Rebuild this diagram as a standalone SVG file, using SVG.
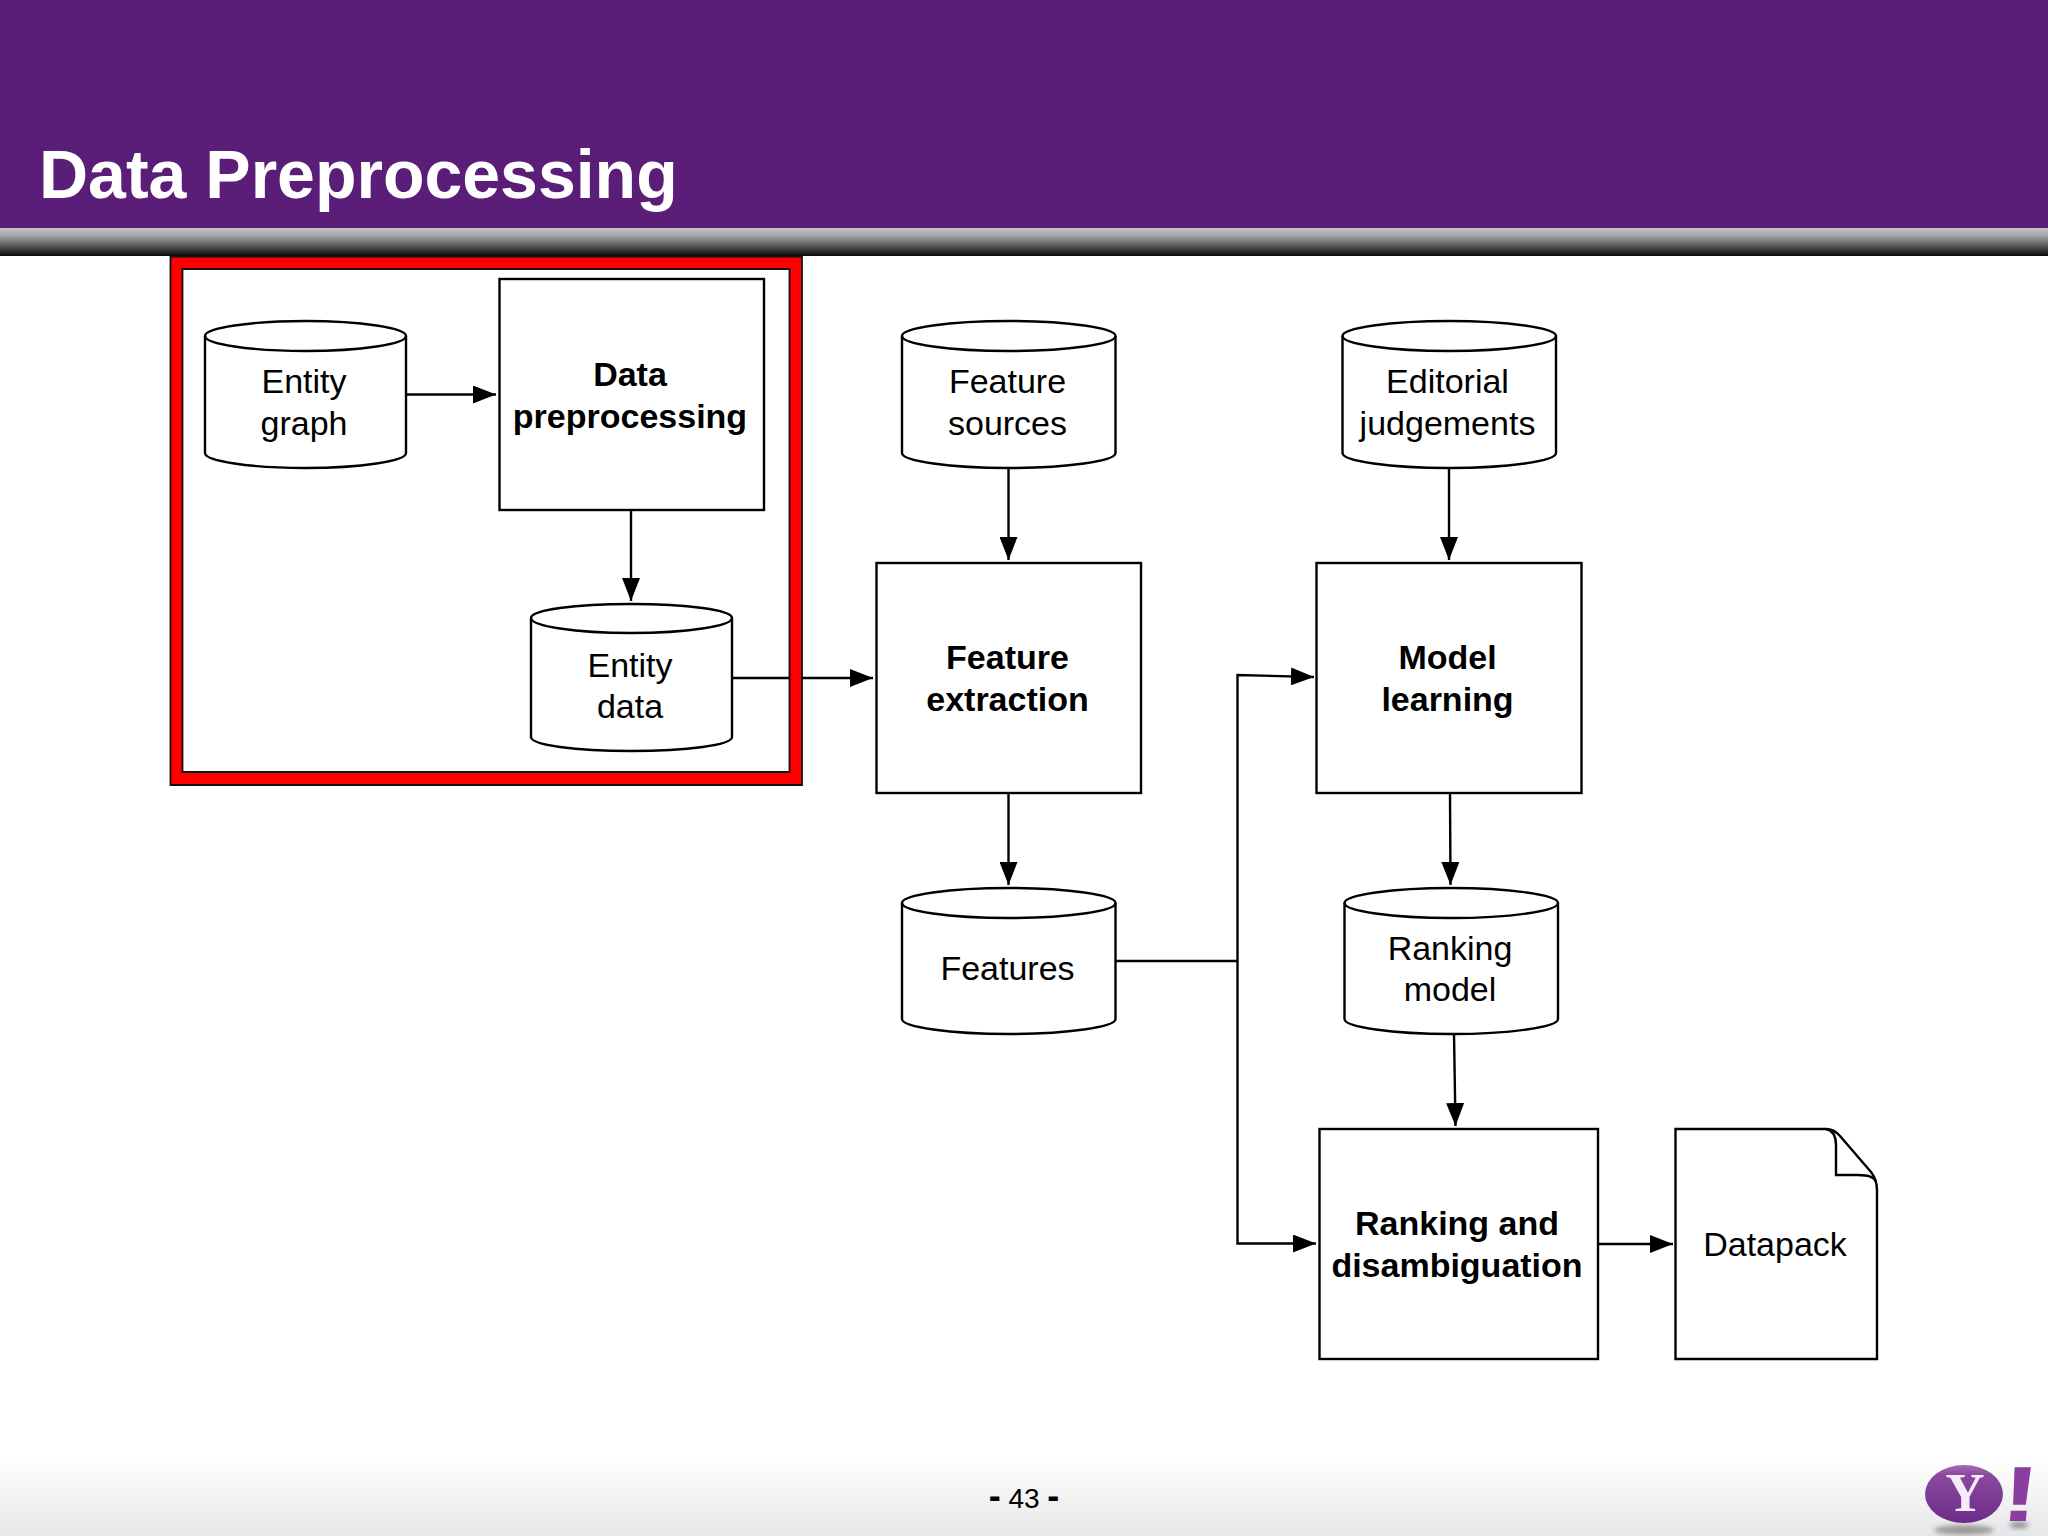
<svg xmlns="http://www.w3.org/2000/svg" width="2048" height="1536" viewBox="0 0 2048 1536">
<style>
text{font-family:"Liberation Sans",Arial,sans-serif;fill:#000;text-anchor:middle}
.l{font-size:34px}
.b{font-size:34px;font-weight:700}
.s{fill:#fff;stroke:#000;stroke-width:2.4}
.n{fill:none;stroke:#000;stroke-width:2.4}
.c{fill:none;stroke:#000;stroke-width:2.4}
.a{marker-end:url(#arr)}
</style>
<defs>
<marker id="arr" markerUnits="userSpaceOnUse" markerWidth="24" markerHeight="18" refX="23" refY="9" orient="auto"><path d="M0 0L23 9L0 18Z" fill="#000"/></marker>
<linearGradient id="bar" x1="0" y1="0" x2="0" y2="1"><stop offset="0" stop-color="#c4c4c4"/><stop offset=".25" stop-color="#a8a8a8"/><stop offset=".7" stop-color="#4a4a4a"/><stop offset="1" stop-color="#0a0a0a"/></linearGradient>
<linearGradient id="foot" x1="0" y1="0" x2="0" y2="1"><stop offset="0" stop-color="#fff"/><stop offset="1" stop-color="#e6e6e8"/></linearGradient>
<linearGradient id="ball" x1="0" y1="0" x2="0" y2="1"><stop offset="0" stop-color="#a868b8"/><stop offset=".18" stop-color="#8a489e"/><stop offset="1" stop-color="#6a2c88"/></linearGradient>
<filter id="bl" x="-30%" y="-60%" width="160%" height="220%"><feGaussianBlur stdDeviation="2.5"/></filter>
</defs>
<rect width="2048" height="1536" fill="#fff"/>
<g id="header">
<rect width="2048" height="228" fill="#5a1e78"/>
<rect y="228" width="2048" height="28" fill="url(#bar)"/>
<text x="39" y="198" style="font-size:68px;font-weight:700;fill:#fff;text-anchor:start">Data Preprocessing</text>
</g>
<g id="footer">
<rect y="1460" width="2048" height="76" fill="url(#foot)"/>
<text x="1024" y="1508" style="font-size:28px"><tspan font-weight="700" font-size="36">-</tspan> 43 <tspan font-weight="700" font-size="36">-</tspan></text>
</g>
<g id="yahoo-logo">
<ellipse cx="1964" cy="1530" rx="30" ry="5" fill="#9a9a9a" filter="url(#bl)"/>
<ellipse cx="2019" cy="1525" rx="10" ry="3" fill="#888" filter="url(#bl)"/>
<ellipse cx="1964" cy="1494" rx="39" ry="29" fill="url(#ball)"/>
<text x="1965" y="1511" style="font-family:'Liberation Serif',serif;font-size:54px;font-weight:700;fill:#f4ecf6">Y</text>
<text transform="translate(2018 1521) skewX(-5) scale(1.45 1)" style="font-size:78px;font-weight:700;fill:#8a3f9e">!</text>
</g>
<g id="connectors">
<path class="c a" d="M406 394.500H496"/>
<path class="c a" d="M631 510V601"/>
<path class="c a" d="M732 678H873"/>
<path class="c a" d="M1008.500 468V560"/>
<path class="c a" d="M1449 468V560"/>
<path class="c a" d="M1008.500 793V885"/>
<path class="c a" d="M1450 793L1450.500 885"/>
<path class="c a" d="M1454 1034L1455.500 1126"/>
<path class="c" d="M1115.500 961H1237.500"/>
<path class="c a" d="M1237.500 961V675L1314 677"/>
<path class="c a" d="M1237.500 961V1243.500H1316"/>
<path class="c a" d="M1598.500 1244H1673"/>
</g>
<g id="entity-graph"><path class="s" d="M205 336C205 328 250 321 305.500 321S406 328 406 336V453C406 461 361 468 305.500 468S205 461 205 453Z"/><path class="n" d="M205 336C205 344 250 351 305.500 351S406 344 406 336"/><text class="l" x="304" y="393">Entity</text><text class="l" x="304" y="435">graph</text></g>
<g id="data-preprocessing"><rect class="s" x="499.500" y="279" width="264.500" height="231"/><text class="b" x="630" y="386">Data</text><text class="b" x="630" y="428">preprocessing</text></g>
<g id="entity-data"><path class="s" d="M531 618C531 610 575 604 631 604S732 610 732 618V737C732 745 687 751 631 751S531 745 531 737Z"/><path class="n" d="M531 618C531 626 575 633 631 633S732 626 732 618"/><text class="l" x="630" y="677">Entity</text><text class="l" x="630" y="718">data</text></g>
<g id="feature-sources"><path class="s" d="M902 336C902 328 949 321 1008.500 321S1115.500 328 1115.500 336V453C1115.500 461 1067 468 1008.500 468S902 461 902 453Z"/><path class="n" d="M902 336C902 344 949 351 1008.500 351S1115.500 344 1115.500 336"/><text class="l" x="1007.500" y="393">Feature</text><text class="l" x="1007.500" y="435">sources</text></g>
<g id="editorial-judgements"><path class="s" d="M1342.500 336C1342.500 328 1390 321 1449 321S1556 328 1556 336V453C1556 461 1508 468 1449 468S1342.500 461 1342.500 453Z"/><path class="n" d="M1342.500 336C1342.500 344 1390 351 1449 351S1556 344 1556 336"/><text class="l" x="1447.500" y="393">Editorial</text><text class="l" x="1447.500" y="435">judgements</text></g>
<g id="feature-extraction"><rect class="s" x="876.500" y="563" width="264.500" height="230"/><text class="b" x="1007.500" y="669">Feature</text><text class="b" x="1007.500" y="711">extraction</text></g>
<g id="model-learning"><rect class="s" x="1316.500" y="563" width="265" height="230"/><text class="b" x="1447.500" y="669">Model</text><text class="b" x="1447.500" y="711">learning</text></g>
<g id="features"><path class="s" d="M902 903C902 895 949 888 1008.500 888S1115.500 895 1115.500 903V1019C1115.500 1027 1067 1034 1008.500 1034S902 1027 902 1019Z"/><path class="n" d="M902 903C902 911 949 918 1008.500 918S1115.500 911 1115.500 903"/><text class="l" x="1007.500" y="980">Features</text></g>
<g id="ranking-model"><path class="s" d="M1344.500 903C1344.500 895 1392 888 1451 888S1558 895 1558 903V1019C1558 1027 1510 1034 1451 1034S1344.500 1027 1344.500 1019Z"/><path class="n" d="M1344.500 903C1344.500 911 1392 918 1451 918S1558 911 1558 903"/><text class="l" x="1450" y="960">Ranking</text><text class="l" x="1450" y="1001">model</text></g>
<g id="ranking-disambiguation"><rect class="s" x="1319.500" y="1129" width="278.500" height="230"/><text class="b" x="1457" y="1235">Ranking and</text><text class="b" x="1457" y="1277">disambiguation</text></g>
<g id="datapack"><path class="s" d="M1675.500 1129H1826Q1834 1129 1840 1136L1871 1172Q1877 1180 1877 1190V1359H1675.500Z"/><path class="n" d="M1826 1129Q1836 1131 1836 1145V1175H1858Q1874 1175 1876 1182"/><text class="l" x="1775" y="1256">Datapack</text></g>
<g id="highlight-frame"><path d="M170.500 256.500H802V785H170.500ZM182.500 269V772H789.500V269Z" fill="#f00" fill-rule="evenodd" stroke="#111" stroke-width="1.800"/></g>
</svg>
